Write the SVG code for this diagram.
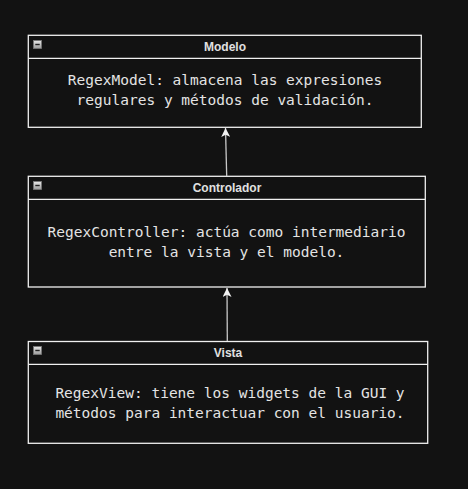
<svg xmlns="http://www.w3.org/2000/svg" width="468" height="489" viewBox="0 0 468 489">
  <defs>
    <linearGradient id="iconGrad" x1="0" y1="0" x2="0" y2="1">
      <stop offset="0" stop-color="#e8e8e8"/>
      <stop offset="1" stop-color="#9a9a9a"/>
    </linearGradient>
    <marker id="arrow" viewBox="0 0 10 10" refX="10" refY="5" markerWidth="10" markerHeight="9" markerUnits="userSpaceOnUse" orient="auto">
      <path d="M0,0 L10,5 L0,10 L2.5,5 Z" fill="#f2f2f2"/>
    </marker>
    <style>
      .box { fill: #121212; stroke: #f0f0f0; stroke-width: 1.3; }
      .sep { stroke: #f0f0f0; stroke-width: 1.3; }
      .title { font-family: "Liberation Sans", Arial, sans-serif; font-weight: bold; font-size: 12px; fill: #e0e0e0; text-anchor: middle; }
      .body { font-family: "DejaVu Sans Mono", "Liberation Mono", monospace; font-size: 14.5px; fill: #e4e4e4; text-anchor: middle; }
      .icon { fill: url(#iconGrad); stroke: #777; stroke-width: 0.8; }
      .minus { stroke: #222; stroke-width: 1.4; }
      .conn { stroke: #c8c8c8; stroke-width: 1.3; fill: none; marker-end: url(#arrow); }
    </style>
  </defs>
  <rect x="0" y="0" width="468" height="489" fill="#121212"/>

  <g id="modelo">
    <rect class="box" x="28.3" y="35.3" width="393" height="92"/>
    <line class="sep" x1="28.3" y1="58.3" x2="421.3" y2="58.3"/>
    <rect class="icon" x="33.5" y="40.5" width="8" height="8"/>
    <line class="minus" x1="35.3" y1="44.5" x2="39.7" y2="44.5"/>
    <text class="title" x="225" y="51">Modelo</text>
    <text class="body" x="225" y="85">RegexModel: almacena las expresiones</text>
    <text class="body" x="225" y="104.5">regulares y métodos de validación.</text>
  </g>

  <g id="controlador">
    <rect class="box" x="28.3" y="176.3" width="397" height="110.7"/>
    <line class="sep" x1="28.3" y1="199.3" x2="425.3" y2="199.3"/>
    <rect class="icon" x="33.5" y="181.5" width="8" height="8"/>
    <line class="minus" x1="35.3" y1="185.5" x2="39.7" y2="185.5"/>
    <text class="title" x="227" y="192">Controlador</text>
    <text class="body" x="226.5" y="237.3">RegexController: actúa como intermediario</text>
    <text class="body" x="226.5" y="257.3">entre la vista y el modelo.</text>
  </g>

  <g id="vista">
    <rect class="box" x="28.3" y="341.5" width="399.4" height="101.8"/>
    <line class="sep" x1="28.3" y1="364.3" x2="427.7" y2="364.3"/>
    <rect class="icon" x="33.5" y="346.5" width="8" height="8"/>
    <line class="minus" x1="35.3" y1="350.5" x2="39.7" y2="350.5"/>
    <text class="title" x="228" y="357">Vista</text>
    <text class="body" x="230" y="398.3">RegexView: tiene los widgets de la GUI y</text>
    <text class="body" x="230" y="418.3">métodos para interactuar con el usuario.</text>
  </g>

  <g id="connectors">
    <line class="conn" x1="226.7" y1="176" x2="225.5" y2="128"/>
    <line class="conn" x1="227.3" y1="341" x2="227" y2="288"/>
  </g>
</svg>
